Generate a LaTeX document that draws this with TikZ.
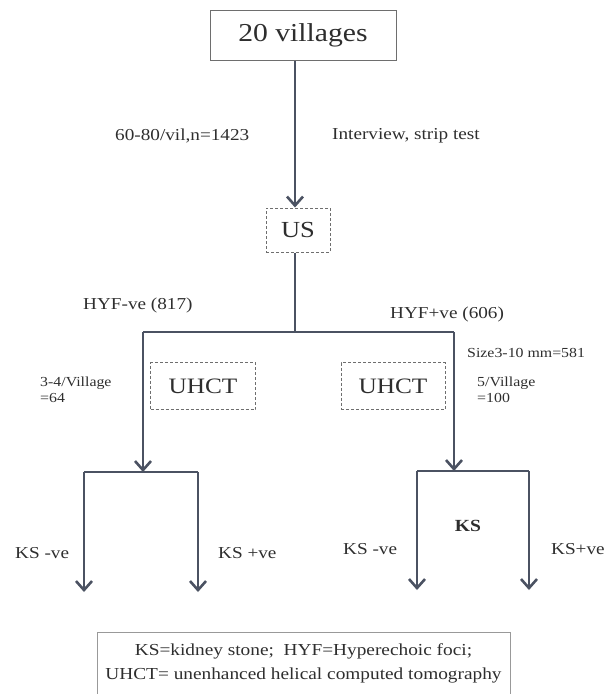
\documentclass[tikz,border=0pt]{standalone}
\usepackage{fontspec}
\setmainfont[FakeStretch=1.15]{Liberation Serif}
\usepackage{xcolor}
\usetikzlibrary{arrows.meta,positioning}

\definecolor{linegray}{HTML}{4B5262}
\definecolor{textgray}{HTML}{2E2E2E}
\definecolor{boxgray}{HTML}{6E6E6E}

\begin{document}
\begin{tikzpicture}[
  x=1pt, y=-1pt,
  every node/.style={text=textgray},
  solidbox/.style={draw=boxgray, line width=1pt, align=center, inner sep=0pt},
  dashbox/.style={draw=boxgray, dashed, line width=1pt, dash pattern=on 3pt off 2pt,
    align=center, inner sep=0pt},
  lbl/.style={font=\fontsize{16.7}{18}\selectfont, inner sep=0pt},
  small/.style={font=\fontsize{13.8}{16}\selectfont, inner sep=0pt, align=left},
  conn/.style={draw=linegray, line width=2.6pt},
  arr/.style={conn, -{Straight Barb[length=9pt, width=16pt, line width=2.6pt]}}
]
\useasboundingbox (0,0) rectangle (608,694);

% boxes
\node[solidbox, minimum width=186, minimum height=50,
  font=\fontsize{25.8}{28}\selectfont] (vil) at (303,35) {20 villages};
\node[dashbox, minimum width=64, minimum height=44,
  font=\fontsize{23}{26}\selectfont] (us) at (298,230) {US};
\node[dashbox, minimum width=105, minimum height=47,
  font=\fontsize{22}{26}\selectfont] (uhctl) at (203,386) {UHCT};
\node[dashbox, minimum width=104, minimum height=47,
  font=\fontsize{22}{26}\selectfont] (uhctr) at (393,386) {UHCT};

% branch points
\coordinate (mid) at (295,332);
\coordinate (negtop) at (143,332);
\coordinate (postop) at (454,332);
\coordinate (negfork) at (143,472);
\coordinate (posfork) at (454,471);
\coordinate (negl) at (84,472);
\coordinate (negr) at (198,472);
\coordinate (posl) at (417,471);
\coordinate (posr) at (529,471);
\coordinate (neglend) at (84,592);
\coordinate (negrend) at (198,592);
\coordinate (poslend) at (417,590);
\coordinate (posrend) at (529,590);

% labels
\node[lbl, anchor=west] (persize) at (115,136) {60-80/vil,n=1423};
\node[lbl, anchor=west] (intv) at (332,136) {Interview, strip test};
\node[lbl, anchor=west] (hyfneg) at (83,305) {HYF-ve (817)};
\node[lbl, anchor=west] (hyfpos) at (390,314) {HYF+ve (606)};
\node[small, anchor=west] (size) at (467,353) {Size3-10 mm=581};
\node[small, anchor=west] (fivev) at (477,390) {5/Village\\=100};
\node[small, anchor=west] (threev) at (40,390) {3-4/Village\\=64};
\node[lbl, anchor=west] (ksnl) at (15,553) {KS -ve};
\node[lbl, anchor=west] (kspl) at (218,553) {KS +ve};
\node[lbl, anchor=west] (ksnr) at (343,549) {KS -ve};
\node[lbl, anchor=center, font=\bfseries\fontsize{17}{18}\selectfont] (ks) at (468,526) {KS};
\node[lbl, anchor=west] (kspr) at (551,549) {KS+ve};

% legend
\node[solidbox, draw=boxgray!70, line width=0.8pt, minimum width=413, minimum height=62,
  font=\fontsize{16.8}{24}\selectfont] (legend) at (303.5,663)
  {KS=kidney stone;\ \ HYF=Hyperechoic foci;\\UHCT= unenhanced helical computed tomography};

% connectors
\draw[arr] (vil.south -| mid) -- (us.north -| mid);
\draw[conn] (us.south -| mid) -- (mid);
\draw[conn] (negtop) -- (postop);
\draw[arr] (negtop) -- (negfork);
\draw[arr] (postop) -- (posfork);
\draw[conn] (negl) -- (negr);
\draw[conn] (posl) -- (posr);
\draw[arr] (negl) -- (neglend);
\draw[arr] (negr) -- (negrend);
\draw[arr] (posl) -- (poslend);
\draw[arr] (posr) -- (posrend);
\end{tikzpicture}
\end{document}
